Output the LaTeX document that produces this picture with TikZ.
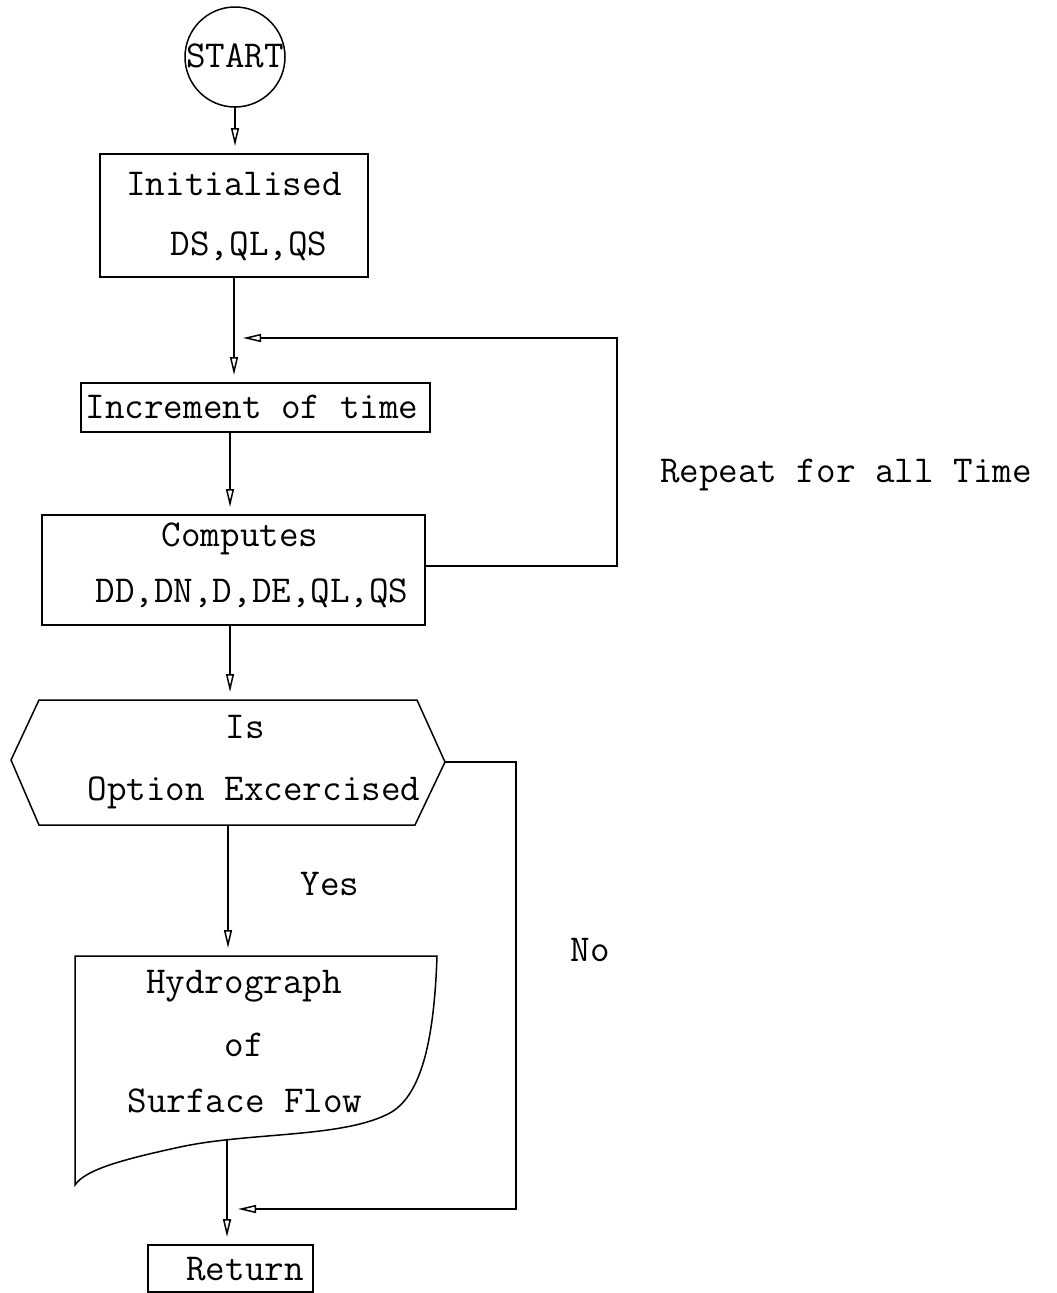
\documentclass[tikz,border=0pt]{standalone}
\usepackage{fontspec}
\usetikzlibrary{arrows.meta,calc}
\begin{document}
\begin{tikzpicture}[x=1pt,y=-1pt,
  font=\ttfamily\fontsize{38}{45}\selectfont,
  every node/.style={inner sep=0pt, outer sep=0pt},
  ln/.style={line width=1.5pt, line join=miter},
  box/.style={ln, draw, rectangle},
  lbl/.style={text height=0.6em, text depth=0pt, anchor=center, yshift=-7pt},
  arr/.style={ln, -{Triangle[open,length=18pt,width=8pt]}, shorten >=8pt}
]
\useasboundingbox (0,0) rectangle (1057,1293);

% terminal
\node[ln, draw, circle, minimum size=100pt] (start) at (235,57) {};
\node[lbl] at (235,57) {START};

% process boxes
\node[box, minimum width=268pt, minimum height=123pt] (init) at (234,215.5) {};
\node[lbl] at (234,185) {Initialised};
\node[lbl] at (249,245) {DS,QL,QS};

\node[box, minimum width=349pt, minimum height=49pt] (incr) at (255.5,407.5) {};
\node[lbl] at (252,408) {Increment of time};

\node[box, minimum width=383pt, minimum height=110pt] (comp) at (233.5,570) {};
\node[lbl] at (240,536) {Computes};
\node[lbl] at (252,592) {DD,DN,D,DE,QL,QS};

% decision (hexagon)
\coordinate (hexTop) at (230,700);
\coordinate (hexBot) at (228,825);
\coordinate (hexRight) at (445,762);
\draw[ln] (39,700) -- (417,700) -- (hexRight) -- (415,825) -- (39,825) -- (11,760) -- cycle;
\node[lbl] at (245,728) {Is};
\node[lbl] at (254,790) {Option Excercised};

% document (output) shape
\coordinate (hydTop) at (228,956);
\coordinate (hydBot) at (227,1140);
\draw[ln] (75,1185) -- (75,956) -- (437,956)
  .. controls (434,1045) and (420,1098) .. (388,1114)
  .. controls (340,1138) and (250,1132) .. (180,1147)
  .. controls (120,1160) and (85,1170) .. (75,1185) -- cycle;
\node[lbl] at (244,983) {Hydrograph};
\node[lbl] at (244,1046) {of};
\node[lbl] at (245,1102) {Surface Flow};

% terminal box
\node[box, minimum width=165pt, minimum height=47pt] (ret) at (230.5,1268.5) {};
\node[lbl] at (245,1270) {Return};

% main flow
\draw[arr] (start.south) -- (start.south |- init.north);
\draw[arr] (init.south) -- (init.south |- incr.north);
\draw[arr] (incr.south -| hexTop) -- (hexTop |- comp.north);
\draw[arr] (comp.south -| hexTop) -- (hexTop);
\draw[arr] (hexBot) -- (hydTop);
\draw[arr] (hydBot) -- (hydBot |- ret.north);

% repeat loop
\coordinate (loopIn) at (243,338);
\draw[ln, -{Triangle[open,length=18pt,width=8pt]}] (comp.east |- 0,566) -- (617,566) -- (617,338) -- (loopIn);
\node[anchor=west, text height=0.6em, text depth=0pt, yshift=-7pt] at (660,472) {Repeat for all Time};

% "No" branch
\coordinate (joinIn) at (238,1209);
\draw[ln, -{Triangle[open,length=18pt,width=8pt]}] (hexRight) -- (516,762) -- (516,1209) -- (joinIn);

\node[lbl] at (330,885) {Yes};
\node[lbl] at (590,951) {No};
\end{tikzpicture}
\end{document}
